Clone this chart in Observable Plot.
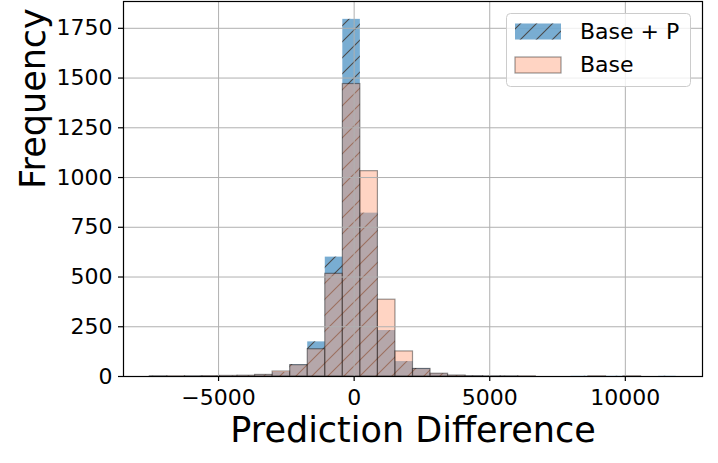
<!DOCTYPE html>
<html>
<head>
<meta charset="utf-8">
<script src="https://cdn.jsdelivr.net/npm/d3@7"></script>
<script src="https://cdn.jsdelivr.net/npm/@observablehq/plot@0.6"></script>
<style>
  html, body { margin: 0; padding: 0; background: #fff; }
  #wrap { position: relative; width: 718px; height: 463px; font-family: "DejaVu Sans", sans-serif; }
  #legend { position: absolute; left: 0; top: 0; pointer-events: none; }
</style>
</head>
<body>
<div id="wrap"></div>
<script>
// Histogram bin edges (Prediction Difference)
const binEdges = [-7535, -6888, -6241, -5594, -4947, -4300, -3653, -3006, -2359, -1712,
  -1065, -418, 229, 876, 1523, 2170, 2817, 3464, 4111, 4758,
  5405, 6052, 6699, 7346, 7993, 8640, 9287, 9934, 10581, 11228, 11875];
// Counts per bin
const countsBaseP = [1, 0, 1, 1, 2, 3, 7, 20, 59, 174,
  600, 1795, 821, 231, 75, 40, 13, 4, 2, 1,
  1, 0, 0, 0, 1, 0, 1, 0, 0, 1];
const countsBase = [1, 1, 1, 2, 3, 4, 8, 25, 57, 137,
  516, 1470, 1032, 386, 126, 38, 14, 5, 2, 1,
  1, 1, 0, 0, 0, 1, 0, 1, 0, 0];
const seriesNames = ["Base + P", "Base"];
const xTicks = [-5000, 0, 5000, 10000];
const yTicks = [0, 250, 500, 750, 1000, 1250, 1500, 1750];
const xLabel = "Prediction Difference";
const yLabel = "Frequency";

const bins = countsBaseP.map((c, i) => ({x1: binEdges[i], x2: binEdges[i + 1], baseP: c, base: countsBase[i]}));

const lo = binEdges[0], hi = binEdges[binEdges.length - 1];
const pad = 0.05 * (hi - lo);
const yMax = d3.max([...countsBaseP, ...countsBase]) * 1.05;

const font = "DejaVu Sans";
const chart = Plot.plot({
  width: 718,
  height: 463,
  marginLeft: 123,
  marginRight: 16,
  marginTop: 1,
  marginBottom: 87,
  style: {fontFamily: font, background: "white", color: "black"},
  x: {domain: [lo - pad, hi + pad]},
  y: {domain: [0, yMax]},
  marks: [
    Plot.rectY(bins, {x1: "x1", x2: "x2", y: "baseP", fill: "#1f77b4", fillOpacity: 0.6, inset: 0}),
    Plot.rectY(bins, {x1: "x1", x2: "x2", y: "baseP", fill: "url(#hatchP)", inset: 0}),
    Plot.rectY(bins, {x1: "x1", x2: "x2", y: "base", fill: "#ffa07a", fillOpacity: 0.45, stroke: "black", strokeOpacity: 0.4, strokeWidth: 1.2, inset: 0}),
    Plot.gridX(xTicks, {stroke: "#b0b0b0", strokeOpacity: 1, strokeWidth: 1}),
    Plot.gridY(yTicks, {stroke: "#b0b0b0", strokeOpacity: 1, strokeWidth: 1}),
    Plot.frame({stroke: "black", strokeWidth: 1.2}),
    Plot.axisX(xTicks, {tickSize: 5, tickPadding: 8, fontSize: 22, tickFormat: d3.format("d"), label: null, strokeWidth: 1.2}),
    Plot.axisY(yTicks, {tickSize: 5, tickPadding: 6, fontSize: 22, tickFormat: d3.format("d"), label: null, strokeWidth: 1.2}),
    Plot.text([xLabel], {frameAnchor: "bottom", dy: 65, lineAnchor: "bottom", fontSize: 35, fill: "black"}),
    Plot.text([yLabel], {frameAnchor: "left", dx: -79, rotate: -90, lineAnchor: "bottom", fontSize: 35, fill: "black"})
  ]
});

// hatch pattern definition for the "Base + P" bars
const ns = "http://www.w3.org/2000/svg";
function addHatch(svg, id) {
  const defs = document.createElementNS(ns, "defs");
  defs.innerHTML = `<pattern id="${id}" patternUnits="userSpaceOnUse" width="16" height="16">
    <path d="M-4,4 L4,-4 M0,16 L16,0 M12,20 L20,12" stroke="#4a4a4a" stroke-width="1.1" fill="none"/>
  </pattern>`;
  svg.insertBefore(defs, svg.firstChild);
}
addHatch(chart, "hatchP");
document.getElementById("wrap").appendChild(chart);

// Legend overlay (inside the axes, upper right)
const leg = document.createElementNS(ns, "svg");
leg.setAttribute("id", "legend");
leg.setAttribute("width", 718);
leg.setAttribute("height", 463);
addHatch(leg, "hatchL");
const legendColors = [
  {fill: "#1f77b4", op: 0.6, hatch: true, stroke: "none"},
  {fill: "#ffa07a", op: 0.45, hatch: false, stroke: "rgba(0,0,0,0.4)"}
];
let html = `<rect x="506.5" y="13.5" width="184" height="73" rx="4" ry="4" fill="white" fill-opacity="0.8" stroke="#cccccc" stroke-width="1"/>`;
seriesNames.forEach((name, i) => {
  const y = 23.5 + i * 33.5;
  const c = legendColors[i];
  html += `<rect x="515" y="${y}" width="46" height="16" fill="${c.fill}" fill-opacity="${c.op}" stroke="${c.stroke}" stroke-width="1.2"/>`;
  if (c.hatch) html += `<rect x="515" y="${y}" width="46" height="16" fill="url(#hatchL)"/>`;
  html += `<text x="580" y="${y + 15}" font-family="${font}" font-size="22" fill="black">${name}</text>`;
});
leg.insertAdjacentHTML("beforeend", html);
document.getElementById("wrap").appendChild(leg);
</script>
</body>
</html>
